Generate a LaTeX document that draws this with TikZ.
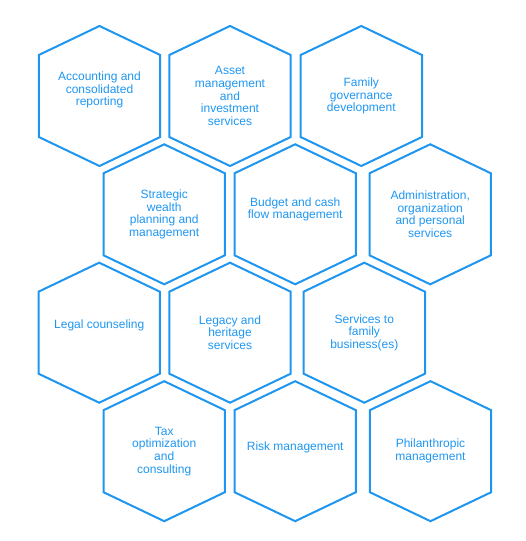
\documentclass[tikz,border=0pt]{standalone}
\usepackage{fontspec}
\setmainfont{Liberation Sans}
\usetikzlibrary{calc}
\definecolor{cHex}{HTML}{1E96F0}
\tikzset{
  hexline/.style={draw=cHex,line width=2pt},
  hexlbl/.style ={text=cHex,align=center,inner sep=0pt,
                  font=\fontsize{12}{12.7}\selectfont},
}
% one cell: [label options]{name}{centre}{text}
\newcommand{\hexcell}[4][]{%
  \coordinate (#2) at #3;
  \draw[hexline] ($(#2)+(0,70)$) -- ++(60.7,-29) -- ++(0,-82)
    -- ++(-60.7,-29) -- ++(-60.7,29) -- ++(0,82) -- cycle;
  \node[hexlbl,#1] (#2-txt) at (#2) {#4};
}

\begin{document}
\begin{tikzpicture}[x=1pt,y=1pt]
\useasboundingbox (0,0) rectangle (525,541);
% row 1
\hexcell[yshift=6]{acc}{(99.5,445)}{Accounting and\\consolidated\\reporting}
\hexcell{asset}{(230,445)}{Asset\\management\\and\\investment\\services}
\hexcell{gov}{(361.3,445)}{Family\\governance\\development}
% row 2
\hexcell{strat}{(164.2,326.7)}{Strategic\\wealth\\planning and\\management}
\hexcell[yshift=5]{budget}{(295.2,326.7)}{Budget and cash\\flow management}
\hexcell{admin}{(430.2,326.7)}{Administration,\\organization\\and personal\\services}
% row 3
\hexcell[yshift=7]{legal}{(99.2,208.3)}{Legal counseling}
\hexcell{legacy}{(230,208.3)}{Legacy and\\heritage\\services}
\hexcell{famb}{(364.3,208.3)}{Services to\\family\\business(es)}
% row 4
\hexcell{tax}{(164.2,89.8)}{Tax\\optimization\\and\\consulting}
\hexcell[yshift=4]{risk}{(295.2,89.8)}{Risk management}
\hexcell{phil}{(430.5,89.8)}{Philanthropic\\management}
\end{tikzpicture}
\end{document}
